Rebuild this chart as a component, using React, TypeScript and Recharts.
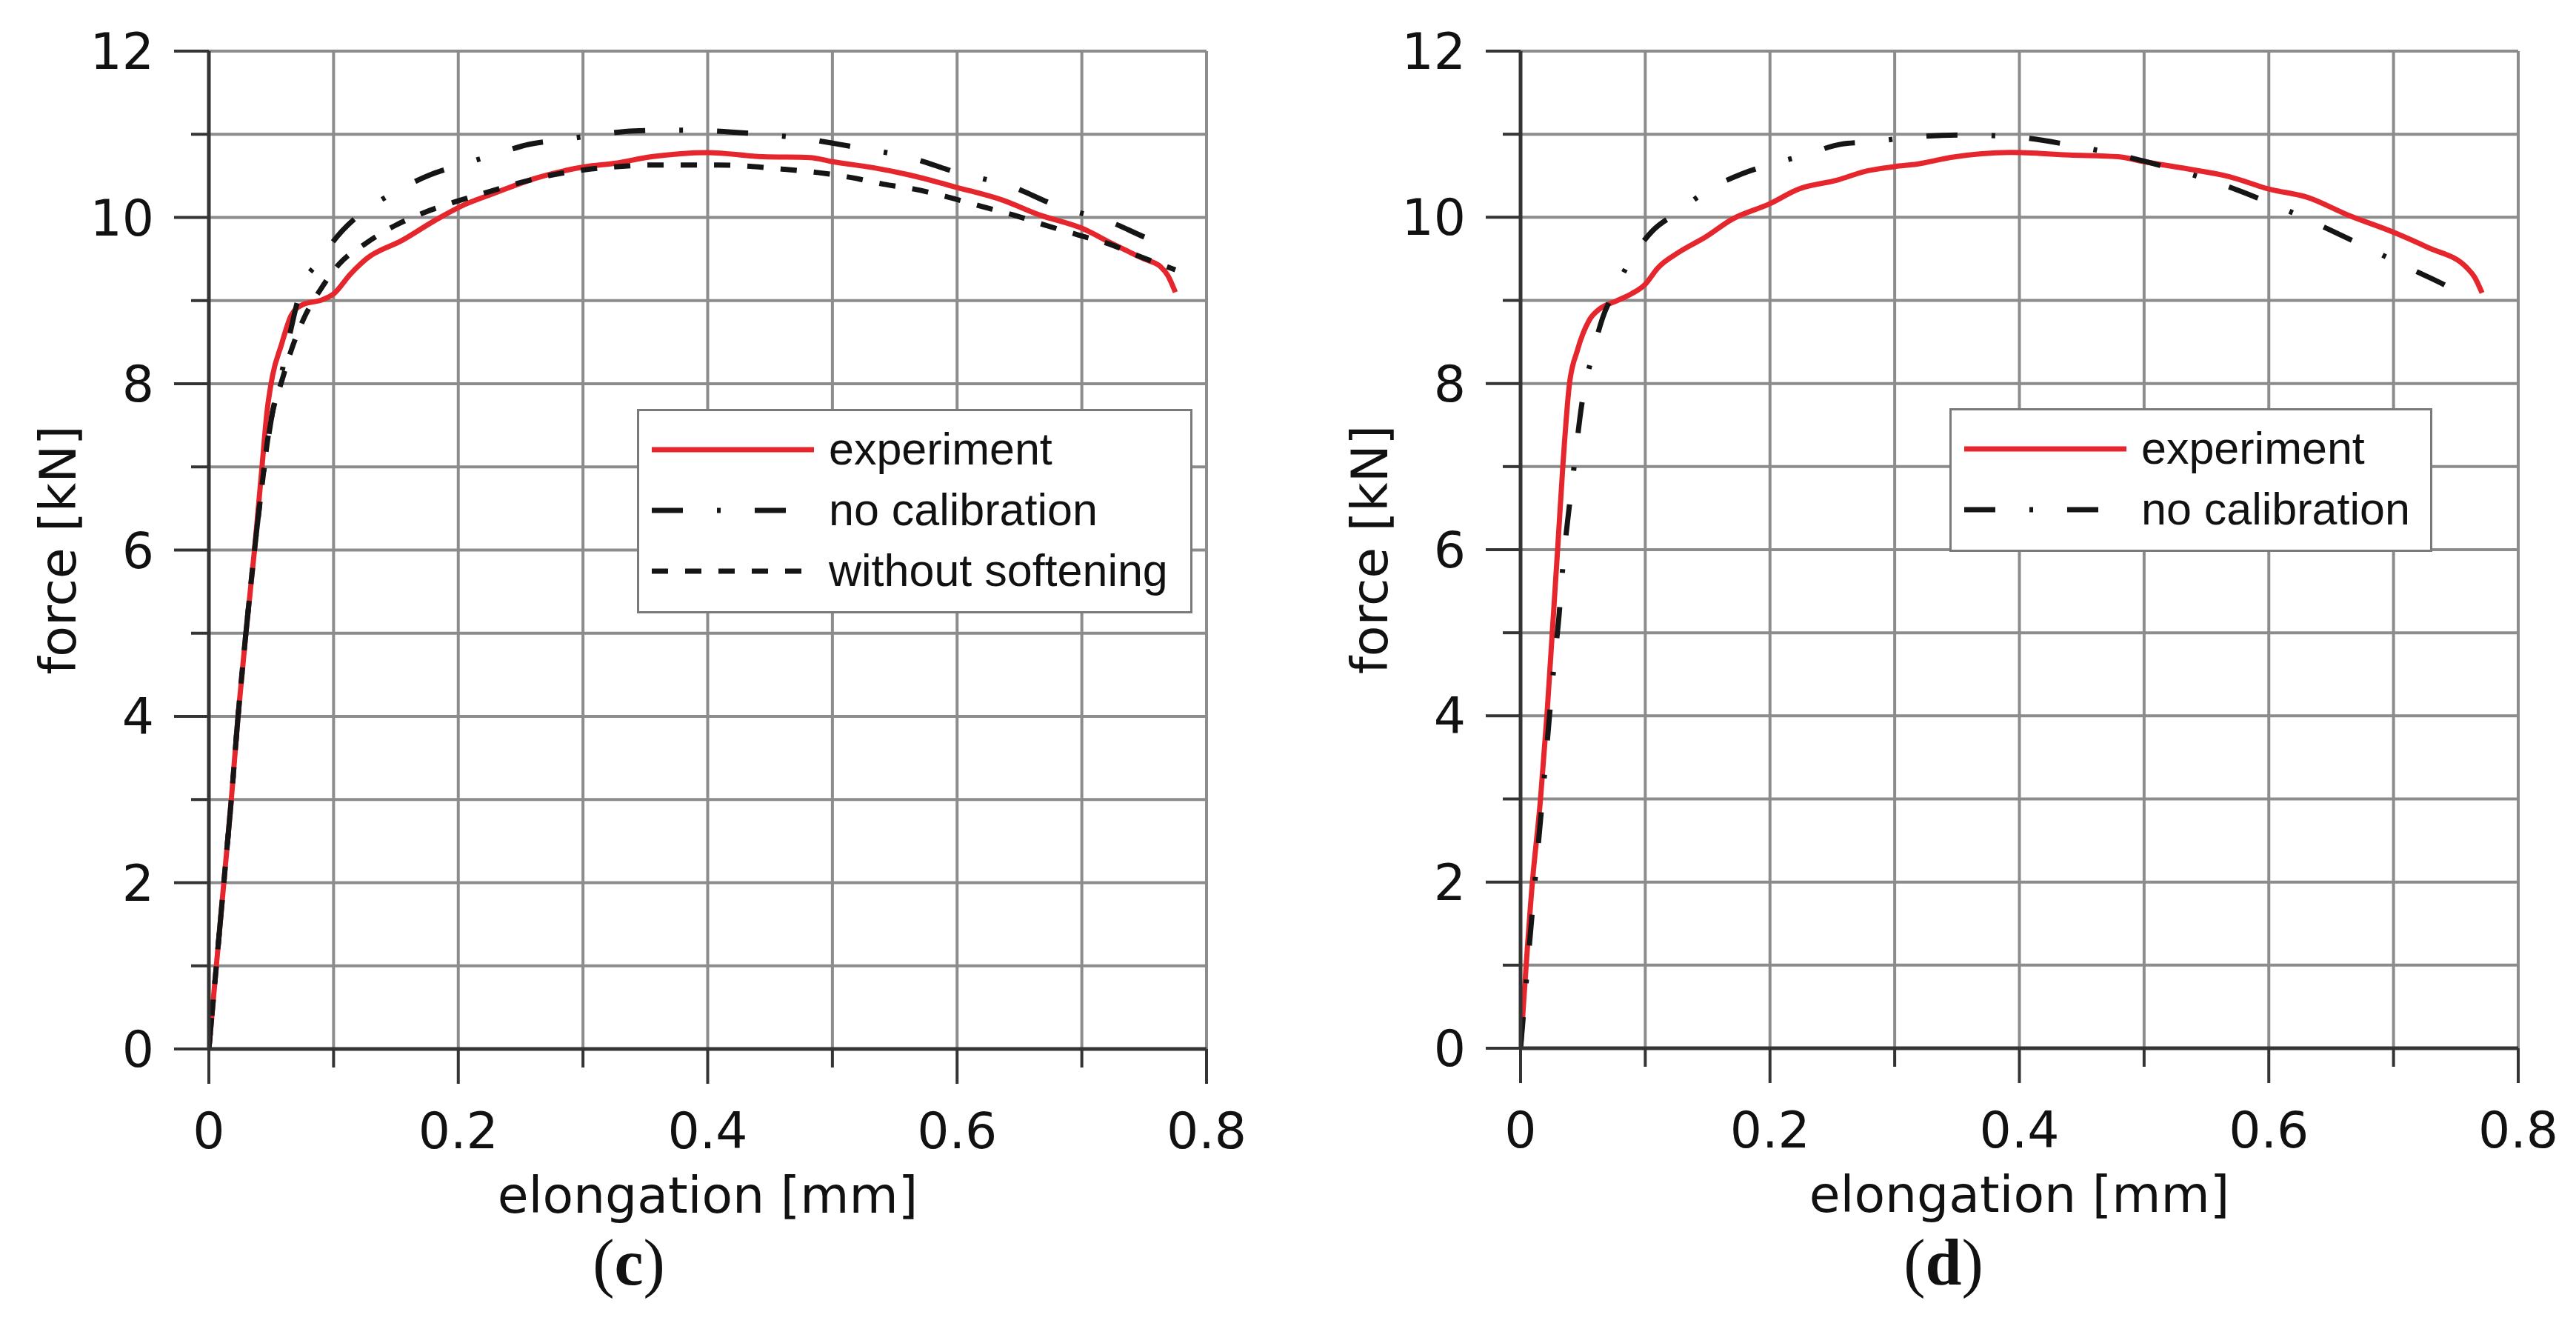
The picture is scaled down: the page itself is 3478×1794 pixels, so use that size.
import { CartesianGrid, Legend, Line, LineChart, XAxis, YAxis } from "recharts";

// axis ticks (grid every tick, labels only on the major ones)
const xTicks = [0, 0.1, 0.2, 0.3, 0.4, 0.5, 0.6, 0.7, 0.8];
const xTickLabels = ["0", "", "0.2", "", "0.4", "", "0.6", "", "0.8"];
const yTicks = [0, 1, 2, 3, 4, 5, 6, 7, 8, 9, 10, 11, 12];
const yTickLabels = ["0", "", "2", "", "4", "", "6", "", "8", "", "10", "", "12"];

const seriesLabels = {
  experiment: "experiment",
  noCalibration: "no calibration",
  withoutSoftening: "without softening",
};

// panel (c): [elongation mm, force kN]
const experimentC: [number, number][] = [
  [0, 0], [0.006, 1], [0.012, 2], [0.018, 3], [0.0234, 4], [0.0297, 5], [0.0366, 6],
  [0.0426, 7], [0.0466, 7.66], [0.0511, 8.1], [0.058, 8.46], [0.066, 8.82], [0.075, 8.95],
  [0.091, 9.01], [0.1, 9.08], [0.1136, 9.32], [0.127, 9.51], [0.1545, 9.72], [0.182, 9.97],
  [0.2045, 10.15], [0.227, 10.28], [0.264, 10.48], [0.302, 10.61], [0.325, 10.65],
  [0.355, 10.73], [0.4, 10.78], [0.444, 10.73], [0.482, 10.72], [0.5, 10.67], [0.532, 10.6],
  [0.562, 10.51], [0.6, 10.36], [0.636, 10.21], [0.666, 10.03], [0.7, 9.87], [0.725, 9.68],
  [0.75, 9.5], [0.763, 9.41], [0.769, 9.3], [0.775, 9.1],
];
const noCalibrationC: [number, number][] = [
  [0, 0], [0.006, 1], [0.012, 2], [0.018, 3], [0.0234, 4], [0.0297, 5], [0.0366, 6],
  [0.0432, 6.85], [0.0511, 7.66], [0.058, 8.1], [0.065, 8.6], [0.0727, 9.08], [0.0886, 9.48],
  [0.107, 9.84], [0.124, 10.07], [0.15, 10.31], [0.177, 10.51], [0.199, 10.62], [0.228, 10.75],
  [0.257, 10.88], [0.281, 10.93], [0.31, 10.99], [0.341, 11.04], [0.38, 11.05], [0.435, 11.01],
  [0.476, 10.95], [0.52, 10.84], [0.562, 10.72], [0.6, 10.54], [0.642, 10.38], [0.68, 10.14],
  [0.722, 9.95], [0.76, 9.71], [0.773, 9.66],
];
const withoutSofteningC: [number, number][] = [
  [0, 0], [0.006, 1], [0.012, 2], [0.018, 3], [0.0234, 4], [0.0297, 5], [0.0366, 6],
  [0.0432, 6.85], [0.0466, 7.27], [0.0511, 7.66], [0.058, 8.01], [0.066, 8.4], [0.076, 8.78],
  [0.0898, 9.14], [0.1045, 9.44], [0.126, 9.69], [0.149, 9.9], [0.173, 10.06], [0.198, 10.19],
  [0.225, 10.31], [0.25, 10.42], [0.275, 10.51], [0.3, 10.57], [0.327, 10.61], [0.355, 10.63],
  [0.408, 10.63], [0.461, 10.58], [0.488, 10.54], [0.515, 10.48], [0.541, 10.4], [0.566, 10.34],
  [0.594, 10.24], [0.618, 10.14], [0.645, 10.03], [0.67, 9.91], [0.697, 9.79], [0.722, 9.68],
  [0.745, 9.54], [0.775, 9.37],
];

// panel (d)
const experimentD: [number, number][] = [
  [0, 0], [0.0095, 2], [0.016, 3], [0.0212, 4.02], [0.0255, 5.02], [0.0297, 6], [0.034, 7.03],
  [0.039, 7.97], [0.0456, 8.4], [0.055, 8.76], [0.0636, 8.9], [0.0764, 8.99], [0.089, 9.08],
  [0.0997, 9.19], [0.11, 9.39], [0.127, 9.58], [0.148, 9.76], [0.17, 9.98], [0.1994, 10.16],
  [0.223, 10.34], [0.2545, 10.45], [0.2757, 10.55], [0.2997, 10.61], [0.318, 10.64],
  [0.345, 10.72], [0.393, 10.78], [0.44, 10.75], [0.479, 10.73], [0.5, 10.67], [0.536, 10.58],
  [0.568, 10.49], [0.6, 10.34], [0.631, 10.24], [0.663, 10.03], [0.7, 9.82], [0.727, 9.64],
  [0.759, 9.39], [0.765, 9.28], [0.771, 9.09],
];
const noCalibrationD: [number, number][] = [
  [0, 0], [0.0115, 2], [0.0175, 3], [0.0229, 3.95], [0.0265, 4.56], [0.0308, 5.2], [0.034, 5.81],
  [0.0386, 6.46], [0.0435, 7.07], [0.0488, 7.72], [0.0573, 8.33], [0.0658, 8.79], [0.0742, 9.08],
  [0.088, 9.48], [0.106, 9.84], [0.125, 10.05], [0.1495, 10.32], [0.177, 10.52], [0.199, 10.63],
  [0.228, 10.75], [0.257, 10.88], [0.282, 10.91], [0.311, 10.96], [0.353, 10.99], [0.394, 10.97],
  [0.437, 10.88], [0.477, 10.76], [0.526, 10.57], [0.558, 10.42], [0.598, 10.19], [0.636, 9.94],
  [0.674, 9.67], [0.711, 9.4], [0.749, 9.12], [0.762, 9.0],
];

const RED = "#e5262c";
const INK = "#151515";
const GRID = "#8c8c8c";
const AXIS = "#343434";
const SANS = "'DejaVu Sans', Verdana, sans-serif";
const LEGEND_FONT = "'Liberation Sans', Arial, sans-serif";

const W = 1739;
const H = 1794;

interface SeriesDef {
  key: string;
  label: string;
  points: { x: number; y: number }[];
  color: string;
  dash?: string;
}

const toPoints = (pairs: [number, number][]) => pairs.map(([x, y]) => ({ x, y }));

const seriesC: SeriesDef[] = [
  { key: "exp", label: seriesLabels.experiment, points: toPoints(experimentC), color: RED },
  { key: "nocal", label: seriesLabels.noCalibration, points: toPoints(noCalibrationC), color: INK, dash: "42 46 5 46" },
  { key: "nosoft", label: seriesLabels.withoutSoftening, points: toPoints(withoutSofteningC), color: INK, dash: "22 23" },
];

const seriesD: SeriesDef[] = [
  { key: "exp", label: seriesLabels.experiment, points: toPoints(experimentD), color: RED },
  { key: "nocal", label: seriesLabels.noCalibration, points: toPoints(noCalibrationD), color: INK, dash: "42 46 5 46" },
];

const labelFor = (ticks: number[], labels: string[], value: number) => {
  const i = ticks.findIndex((t) => Math.abs(t - value) < 1e-9);
  return i >= 0 ? labels[i] : "";
};

function XTick({ x, y, payload }: any) {
  const text = labelFor(xTicks, xTickLabels, payload.value);
  return (
    <g>
      <line x1={x} x2={x} y1={y} y2={y + (text ? 47 : 25)} stroke={AXIS} strokeWidth={4} />
      {text && (
        <text x={x} y={y + 134} textAnchor="middle" fontSize={68} fontFamily={SANS} fill="#111">
          {text}
        </text>
      )}
    </g>
  );
}

function YTick({ x, y, payload }: any) {
  const text = labelFor(yTicks, yTickLabels, payload.value);
  return (
    <g>
      <line x1={x - (text ? 47 : 24)} x2={x} y1={y} y2={y} stroke={AXIS} strokeWidth={4} />
      {text && (
        <text x={x - 74} y={y + 24} textAnchor="end" fontSize={68} fontFamily={SANS} fill="#111">
          {text}
        </text>
      )}
    </g>
  );
}

function LegendBox({ items, width, height }: { items: SeriesDef[]; width: number; height: number }) {
  return (
    <svg width={width} height={height} style={{ display: "block" }}>
      <rect x={1.5} y={1.5} width={width - 3} height={height - 3} fill="#fff" stroke="#7a7a7a" strokeWidth={3} />
      {items.map((s, i) => {
        const cy = 55 + i * 82;
        return (
          <g key={s.key}>
            <line x1={20} x2={239} y1={cy} y2={cy} stroke={s.color} strokeWidth={7} strokeDasharray={s.dash} />
            <text x={259} y={cy + 20} fontSize={61} fontFamily={LEGEND_FONT} fill="#111">
              {s.label}
            </text>
          </g>
        );
      })}
    </svg>
  );
}

interface PanelProps {
  series: SeriesDef[];
  margin: { top: number; right: number; bottom: number; left: number };
  legend: { left: number; top: number; width: number; height: number };
  caption: string;
  captionX: number;
}

function Panel({ series, margin, legend, caption, captionX }: PanelProps) {
  return (
    <div style={{ position: "relative", width: W, height: H }}>
      <LineChart width={W} height={H} margin={margin}>
        <CartesianGrid stroke={GRID} strokeWidth={4} />
        <XAxis
          type="number"
          dataKey="x"
          domain={[0, 0.8]}
          ticks={xTicks}
          interval={0}
          allowDataOverflow
          height={200}
          tickSize={0}
          tickMargin={0}
          tickLine={false}
          axisLine={{ stroke: AXIS, strokeWidth: 5 }}
          tick={(props: any) => <XTick {...props} />}
          label={{
            content: ({ viewBox }: any) => (
              <text
                x={viewBox.x + viewBox.width / 2}
                y={viewBox.y + 221}
                textAnchor="middle"
                fontSize={68}
                fontFamily={SANS}
                fill="#111"
              >
                elongation [mm]
              </text>
            ),
          }}
        />
        <YAxis
          type="number"
          domain={[0, 12]}
          ticks={yTicks}
          interval={0}
          allowDataOverflow
          width={200}
          tickSize={0}
          tickMargin={0}
          tickLine={false}
          axisLine={{ stroke: AXIS, strokeWidth: 5 }}
          tick={(props: any) => <YTick {...props} />}
          label={{
            content: ({ viewBox }: any) => {
              const tx = viewBox.x + viewBox.width - 180;
              const ty = viewBox.y + viewBox.height / 2;
              return (
                <text
                  x={tx}
                  y={ty}
                  transform={`rotate(-90 ${tx} ${ty})`}
                  textAnchor="middle"
                  fontSize={68}
                  fontFamily={SANS}
                  fill="#111"
                >
                  force [kN]
                </text>
              );
            },
          }}
        />
        <Legend
          layout="vertical"
          align="center"
          verticalAlign="middle"
          wrapperStyle={{ left: legend.left, top: legend.top, width: legend.width, height: legend.height }}
          content={() => <LegendBox items={series} width={legend.width} height={legend.height} />}
        />
        {series.map((s) => (
          <Line
            key={s.key}
            data={s.points}
            dataKey="y"
            type="monotone"
            stroke={s.color}
            strokeWidth={7}
            strokeDasharray={s.dash}
            dot={false}
            activeDot={false}
            isAnimationActive={false}
          />
        ))}
      </LineChart>
      <div
        style={{
          position: "absolute",
          left: captionX - 150,
          width: 300,
          top: 1661,
          textAlign: "center",
          fontSize: 88,
          lineHeight: "88px",
          fontFamily: "'Liberation Serif', 'Times New Roman', serif",
          color: "#111",
        }}
      >
        (<b>{caption}</b>)
      </div>
    </div>
  );
}

export default function App() {
  return (
    <div
      style={{
        position: "absolute",
        left: 0,
        top: 0,
        width: 3478,
        height: 1794,
        background: "#fff",
        display: "flex",
      }}
    >
      <Panel
        series={seriesC}
        margin={{ top: 69, right: 110, bottom: 178, left: 82 }}
        legend={{ left: 860, top: 552, width: 750, height: 276 }}
        caption="c"
        captionX={849}
      />
      <Panel
        series={seriesD}
        margin={{ top: 69, right: 78, bottom: 179, left: 114 }}
        legend={{ left: 893, top: 551, width: 652, height: 194 }}
        caption="d"
        captionX={885}
      />
    </div>
  );
}
